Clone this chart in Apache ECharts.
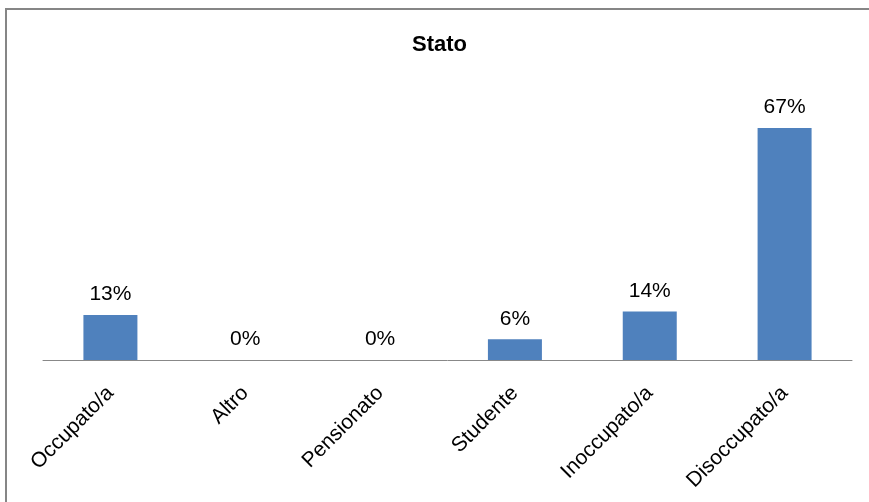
<!DOCTYPE html>
<html>
<head>
<meta charset="utf-8">
<script src="https://cdn.jsdelivr.net/npm/echarts@6/dist/echarts.min.js"></script>
<style>
  html, body { margin: 0; padding: 0; background: #ffffff; }
  #chart { width: 869px; height: 502px; }
</style>
</head>
<body>
<div id="chart"></div>
<script>
// Employment status breakdown (percent of respondents)
const titleText = 'Stato';
const categories = ['Occupato/a', 'Altro', 'Pensionato', 'Studente', 'Inoccupato/a', 'Disoccupato/a'];
const percentages = [13, 0, 0, 6, 14, 67];

const chart = echarts.init(document.getElementById('chart'), null, { renderer: 'canvas' });

chart.setOption({
  backgroundColor: '#ffffff',
  animation: false,
  title: {
    text: titleText,
    left: 412,
    top: 34,
    padding: 0,
    textStyle: {
      fontFamily: 'Liberation Sans',
      fontWeight: 'bold',
      fontSize: 22,
      color: '#000000'
    }
  },
  graphic: [{
    type: 'rect',
    silent: true,
    shape: { x: 6, y: 9, width: 900, height: 600 },
    style: { fill: 'none', stroke: '#868686', lineWidth: 2 }
  }],
  grid: {
    left: 43,
    right: 17,
    top: 83,
    bottom: 142,
    containLabel: false
  },
  xAxis: {
    type: 'category',
    data: categories,
    axisLine: { show: true, lineStyle: { color: '#888888', width: 1 } },
    axisTick: { show: false },
    axisLabel: {
      rotate: 45,
      interval: 0,
      margin: 30,
      fontFamily: 'Liberation Sans',
      fontSize: 21,
      color: '#000000'
    }
  },
  yAxis: {
    type: 'value',
    min: 0,
    max: 80,
    show: false,
    splitLine: { show: false }
  },
  series: [{
    type: 'bar',
    data: percentages,
    barWidth: 54,
    itemStyle: { color: '#4F81BD' },
    label: {
      show: true,
      position: 'top',
      distance: 10,
      formatter: '{c}%',
      fontFamily: 'Liberation Sans',
      fontSize: 21,
      color: '#000000'
    }
  }]
});
</script>
</body>
</html>
